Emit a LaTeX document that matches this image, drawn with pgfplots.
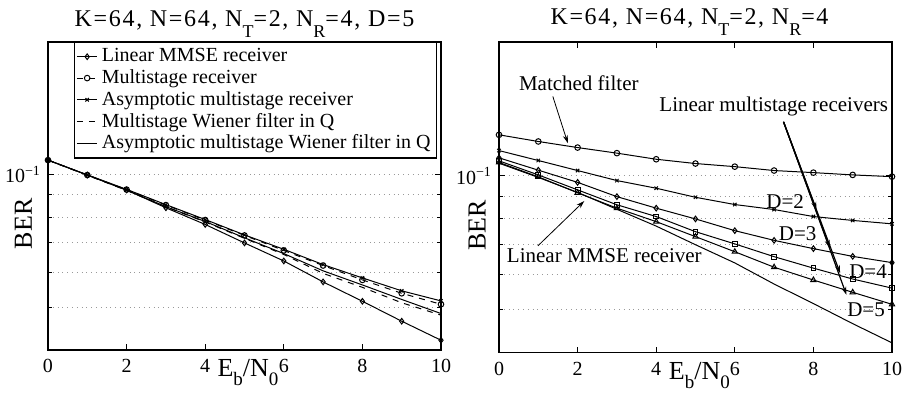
\documentclass[border=0pt]{standalone}
\usepackage{fontspec}
\setmainfont{Liberation Serif}
\usepackage{pgfplots}
\pgfplotsset{compat=1.18}
\usetikzlibrary{arrows.meta}

\newcommand{\tsub}[1]{\raisebox{-5.5pt}{\fontsize{9}{9}\selectfont #1}}
\newcommand{\lsub}[1]{\raisebox{-4.5pt}{\fontsize{9.5}{10}\selectfont #1}}

\pgfplotsset{
  legend image code/.code={\draw[mark repeat=2,mark phase=2,#1] plot coordinates {(0cm,0cm) (0.18cm,0cm) (0.36cm,0cm)};},
  every axis plot/.append style={line width=0.5pt, black, mark size=1.4pt},
  every axis title shift=0pt,
}

\begin{document}
\begin{tikzpicture}
\useasboundingbox (-24pt,-21pt) rectangle (429pt,175pt);
% ---------------- left panel
\begin{axis}[at={(0pt,0pt)}, anchor=south west, scale only axis, width=196.5pt, height=154pt,
  xmin=0, xmax=10, ymode=log, ymin=0.04, ymax=0.2,
  xtick={0,2,4,6,8,10},
  ytick={0.1}, yticklabels={10\textsuperscript{−1}},
  minor ytick={0.05,0.06,0.07,0.08,0.09},
  ymajorgrids, yminorgrids,
  major grid style={dotted, gray!80, line width=0.5pt},
  minor grid style={dotted, gray!80, line width=0.5pt},
  tick align=inside, major tick length=3pt, minor tick length=2pt,
  axis line style={line width=0.7pt},
  tick style={black, line width=0.5pt},
  ticklabel style={font=\fontsize{10}{12}\selectfont},
  /pgf/number format/assume math mode=true,
  xticklabel style={yshift=-1.2pt},
  label style={font=\fontsize{13}{15}\selectfont},
  title style={font=\fontsize{12}{14}\selectfont\addfontfeatures{LetterSpace=7}, at={(axis description cs:0.5,1)}, anchor=base, yshift=8pt},
  xlabel={E\lsub{b}/N\lsub{0}},
  ylabel={BER},
  clip mode=individual,
  title={K=64, N=64, N\tsub{T}=2, N\tsub{R}=4, D=5},
  xlabel style={at={(axis description cs:0.509,0)}, anchor=north, inner sep=0pt, yshift=-4.5pt},
  ylabel style={at={(axis description cs:-0.04,0.41)}, anchor=south, inner sep=0pt},
  legend cell align=left,
  legend style={at={(axis description cs:0.99,1)}, anchor=north east, draw=black, line width=0.6pt,
    font=\fontsize{10}{11}\selectfont, inner sep=1pt, row sep=-1.6pt},
]
\addplot[mark=diamond, mark options={solid}] coordinates {(0,0.1079)(1,0.0998)(2,0.0923)(3,0.0841)(4,0.0771)(5,0.0700)(6,0.0637)(7,0.0571)(8,0.0516)(9,0.0465)(10,0.0421)};
\addlegendentry{Linear MMSE receiver}
\addplot[dashed, mark=o, mark options={solid}] coordinates {(0,0.1079)(1,0.0998)(2,0.0925)(3,0.0853)(4,0.0789)(5,0.0728)(6,0.0673)(7,0.0622)(8,0.0577)(9,0.0538)(10,0.0508)};
\addlegendentry{Multistage receiver}
\addplot[mark=x, mark size=1.2pt, mark options={solid}] coordinates {(0,0.1079)(1,0.0999)(2,0.0926)(3,0.0855)(4,0.0791)(5,0.0730)(6,0.0677)(7,0.0625)(8,0.0583)(9,0.0545)(10,0.0517)};
\addlegendentry{Asymptotic multistage receiver}
\addplot[dashed] coordinates {(0,0.1079)(1,0.0997)(2,0.0921)(3,0.0845)(4,0.0781)(5,0.0717)(6,0.0659)(7,0.0597)(8,0.0555)(9,0.0512)(10,0.0480)};
\addlegendentry{Multistage Wiener filter in Q}
\addplot[solid] coordinates {(0,0.1079)(1,0.0998)(2,0.0922)(3,0.0846)(4,0.0783)(5,0.0719)(6,0.0662)(7,0.0605)(8,0.0562)(9,0.0521)(10,0.0484)};
\addlegendentry{Asymptotic multistage Wiener filter in Q}
\end{axis}
% ---------------- right panel
\begin{axis}[at={(225.5pt,-1.35pt)}, anchor=south west, scale only axis, width=196.5pt, height=155.3pt,
  xmin=0, xmax=10, ymode=log, ymin=0.04, ymax=0.2,
  xtick={0,2,4,6,8,10},
  ytick={0.1}, yticklabels={10\textsuperscript{−1}},
  minor ytick={0.05,0.06,0.07,0.08,0.09},
  ymajorgrids, yminorgrids,
  major grid style={dotted, gray!80, line width=0.5pt},
  minor grid style={dotted, gray!80, line width=0.5pt},
  tick align=inside, major tick length=3pt, minor tick length=2pt,
  axis line style={line width=0.7pt},
  tick style={black, line width=0.5pt},
  ticklabel style={font=\fontsize{10}{12}\selectfont},
  /pgf/number format/assume math mode=true,
  xticklabel style={yshift=-1.2pt},
  label style={font=\fontsize{13}{15}\selectfont},
  title style={font=\fontsize{12}{14}\selectfont\addfontfeatures{LetterSpace=7}, at={(axis description cs:0.5,1)}, anchor=base, yshift=8.7pt, xshift=-3pt},
  xlabel={E\lsub{b}/N\lsub{0}},
  ylabel={BER},
  clip mode=individual,
  title={K=64, N=64, N\tsub{T}=2, N\tsub{R}=4},
  xlabel style={at={(axis description cs:0.51,0)}, anchor=north, inner sep=0pt, yshift=-4.5pt},
  ylabel style={at={(axis description cs:-0.033,0.41)}, anchor=south, inner sep=0pt},
]
\addplot[mark=o] coordinates {(0,0.1237)(1,0.1195)(2,0.1158)(3,0.1125)(4,0.1090)(5,0.1066)(6,0.1049)(7,0.1028)(8,0.1017)(9,0.1005)(10,0.0996)};
\addplot[mark=x, mark size=1.2pt] coordinates {(0,0.1140)(1,0.1083)(2,0.1028)(3,0.0976)(4,0.0938)(5,0.0895)(6,0.0862)(7,0.0840)(8,0.0810)(9,0.0794)(10,0.0780)};
\addplot[mark=diamond] coordinates {(0,0.1098)(1,0.1030)(2,0.0967)(3,0.0898)(4,0.0846)(5,0.0800)(6,0.0753)(7,0.0716)(8,0.0686)(9,0.0659)(10,0.0638)};
\addplot[mark=square, mark size=1.2pt] coordinates {(0,0.1081)(1,0.1005)(2,0.0930)(3,0.0861)(4,0.0810)(5,0.0749)(6,0.0703)(7,0.0658)(8,0.0620)(9,0.0586)(10,0.0559)};
\addplot[mark=triangle, mark size=1.5pt] coordinates {(0,0.1072)(1,0.0995)(2,0.0916)(3,0.0846)(4,0.0789)(5,0.0730)(6,0.0675)(7,0.0623)(8,0.0583)(9,0.0547)(10,0.0514)};
\addplot[solid] coordinates {(0,0.1068)(1,0.0992)(2,0.0918)(3,0.0841)(4,0.0771)(5,0.0700)(6,0.0637)(7,0.0571)(8,0.0516)(9,0.0465)(10,0.0421)};
% annotations
\node[font=\fontsize{10.5}{12}\selectfont] at (axis cs:2.03,0.162) {Matched filter};
\draw[line width=0.4pt, -{Stealth[length=4pt,width=2.5pt]}] (axis cs:1.37,0.1509) -- (axis cs:1.75,0.1185);
\node[font=\fontsize{10.5}{12}\selectfont] at (axis cs:6.99,0.1432) {Linear multistage receivers};
\draw[line width=0.6pt, -{Stealth[length=4pt,width=2.5pt]}] (axis cs:7.24,0.1323) -- (axis cs:8.08,0.0838);
\draw[line width=0.6pt, -{Stealth[length=4pt,width=2.5pt]}] (axis cs:7.24,0.1323) -- (axis cs:8.42,0.0688);
\draw[line width=0.6pt, -{Stealth[length=4pt,width=2.5pt]}] (axis cs:7.24,0.1323) -- (axis cs:8.68,0.0604);
\draw[line width=0.6pt, -{Stealth[length=4pt,width=2.5pt]}] (axis cs:7.24,0.1323) -- (axis cs:8.84,0.0540);
\node[font=\fontsize{10.5}{12}\selectfont] at (axis cs:7.28,0.0876) {D=2};
\node[font=\fontsize{10.5}{12}\selectfont] at (axis cs:7.60,0.0743) {D=3};
\node[font=\fontsize{10.5}{12}\selectfont] at (axis cs:9.39,0.0609) {D=4};
\node[font=\fontsize{10.5}{12}\selectfont] at (axis cs:9.34,0.0501) {D=5};
\node[font=\fontsize{10.5}{12}\selectfont] at (axis cs:2.68,0.0660) {Linear MMSE receiver};
\draw[line width=0.4pt, -{Stealth[length=4pt,width=2.5pt]}] (axis cs:0.99,0.0696) -- (axis cs:2.17,0.0878);
\end{axis}
\end{tikzpicture}
\end{document}
